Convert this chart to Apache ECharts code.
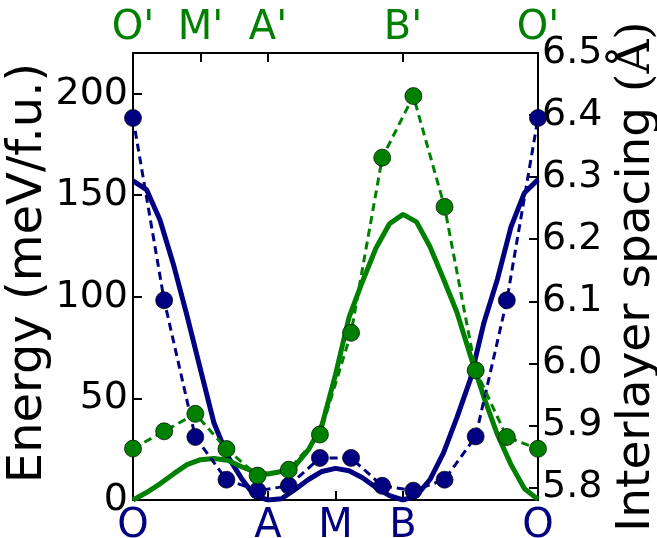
<!DOCTYPE html>
<html><head><meta charset="utf-8">
<script src="https://cdn.jsdelivr.net/npm/echarts@6/dist/echarts.min.js"></script>
<style>html,body{margin:0;padding:0;background:#fff}#c{width:657px;height:538px}</style>
</head><body><div id="c"></div>
<script>
// path coordinate: O=0, A=1, M=1.5, B=2, O=3
const bottomTicks = [0, 1, 1.5, 2, 3];
const bottomLabels = ['O', 'A', 'M', 'B', 'O'];
const topTicks = [0, 0.5, 1, 2, 3];
const topLabels = ["O'", "M'", "A'", "B'", "O'"];
const energyTicks = [0, 50, 100, 150, 200];
const spacingTicks = [5.8, 5.9, 6.0, 6.1, 6.2, 6.3, 6.4, 6.5];

// computed points: 14 equally spaced positions along the path (0..13 of 13)
const dotIndex = [0,1,2,3,4,5,6,7,8,9,10,11,12,13];
const dotCount = 13;
const navyEnergy  = [188, 98.3, 31, 10, 4.6, 7, 20.7, 20.7, 7, 4.6, 10, 31.3, 98.3, 188];
const greenEnergy = [25.3, 33.8, 42.4, 25.1, 12, 14.9, 32.2, 82.3, 168.5, 198.8, 144.3, 63.8, 31, 25.2];

// fitted curves: 31 positions along the path (0..30 of 30)
const lineIndex = [0,1,2,3,4,5,6,7,8,9,10,11,12,13,14,15,16,17,18,19,20,21,22,23,24,25,26,27,28,29,30];
const lineCount = 30;
const navySpacing = [6.294, 6.280, 6.231, 6.159, 6.077, 5.990, 5.904, 5.851, 5.816, 5.787, 5.780,
  5.782, 5.797, 5.813, 5.826, 5.831, 5.827, 5.816, 5.800, 5.787, 5.780,
  5.787, 5.813, 5.856, 5.913, 5.975, 6.066, 6.136, 6.220, 6.275, 6.296];
const greenSpacing = [5.780, 5.792, 5.806, 5.822, 5.837, 5.845, 5.847, 5.844, 5.834, 5.825, 5.822,
  5.826, 5.835, 5.861, 5.901, 5.982, 6.074, 6.132, 6.186, 6.225, 6.240,
  6.228, 6.188, 6.136, 6.082, 6.012, 5.945, 5.885, 5.837, 5.798, 5.781];

const NAVY = '#000080', GREEN = '#008000';
const FONT = 'DejaVu Sans';
const PATH_LEN = 3;

function lookup(ticks, labels) {
  return function (v) {
    for (let i = 0; i < ticks.length; i++) if (Math.abs(ticks[i] - v) < 1e-6) return labels[i];
    return '';
  };
}

const dotX = dotIndex.map(i => i * PATH_LEN / dotCount);
const lineX = lineIndex.map(i => i * PATH_LEN / lineCount);

const axisLine = { show: true, onZero: false, lineStyle: { color: '#000', width: 2 } };
const tick = (vals) => ({ show: true, inside: true, length: 9, customValues: vals, lineStyle: { color: '#000', width: 2 } });

const chart = echarts.init(document.getElementById('c'), null, { renderer: 'canvas' });
chart.setOption({
  animation: false,
  backgroundColor: '#fff',
  grid: { left: 133, right: 119, top: 53, bottom: 38, containLabel: false, outerBoundsMode: 'none' },
  xAxis: [
    { type: 'value', position: 'bottom', min: 0, max: PATH_LEN,
      axisLine: axisLine, splitLine: { show: false },
      axisTick: tick([1, 1.5, 2]),
      axisLabel: { customValues: bottomTicks, formatter: lookup(bottomTicks, bottomLabels),
        color: NAVY, fontFamily: FONT, fontSize: 40, margin: 7, hideOverlap: false } },
    { type: 'value', position: 'top', min: 0, max: PATH_LEN,
      axisLine: axisLine, splitLine: { show: false },
      axisTick: tick([0.5, 1, 2]),
      axisLabel: { customValues: topTicks, formatter: lookup(topTicks, topLabels),
        color: GREEN, fontFamily: FONT, fontSize: 40, margin: 4, hideOverlap: false } },
  ],
  yAxis: [
    { type: 'value', position: 'left', min: 0, max: 220,
      axisLine: axisLine, splitLine: { show: false },
      axisTick: tick(energyTicks),
      axisLabel: { customValues: energyTicks, color: '#000', fontFamily: FONT, fontSize: 38, margin: 5 },
      name: 'Energy (meV/f.u.)', nameLocation: 'middle', nameRotate: 90, nameGap: 80, nameMoveOverlap: false,
      nameTextStyle: { color: '#000', fontFamily: FONT, fontSize: 48, padding: [0, 0, 0, 7] } },
    { type: 'value', position: 'right', min: 5.78, max: 6.5,
      axisLine: axisLine, splitLine: { show: false },
      axisTick: tick(spacingTicks),
      axisLabel: { customValues: spacingTicks, formatter: v => v.toFixed(1),
        color: '#000', fontFamily: FONT, fontSize: 38, margin: 4 },
      name: '{a|Interlayer spacing }{b|(Å)}', nameLocation: 'middle', nameRotate: 90, nameGap: 65,
      nameTextStyle: { color: '#000', fontFamily: FONT, fontSize: 47,
        rich: { a: { fontFamily: FONT, fontSize: 47, color: '#000' },
                b: { fontFamily: 'DejaVu Serif', fontSize: 47, color: '#000' } } } }
  ],
  series: [
    { type: 'line', xAxisIndex: 0, yAxisIndex: 1, data: lineX.map((x, i) => [x, navySpacing[i]]),
      showSymbol: false, symbol: 'none', lineStyle: { color: NAVY, width: 5 }, z: 2, silent: true },
    { type: 'line', xAxisIndex: 0, yAxisIndex: 1, data: lineX.map((x, i) => [x, greenSpacing[i]]),
      showSymbol: false, symbol: 'none', lineStyle: { color: GREEN, width: 5 }, z: 2, silent: true },
    { type: 'line', xAxisIndex: 0, yAxisIndex: 0, data: dotX.map((x, i) => [x, navyEnergy[i]]),
      symbol: 'circle', symbolSize: 17, showAllSymbol: true,
      lineStyle: { color: NAVY, width: 3, type: [8, 5] },
      itemStyle: { color: NAVY, borderColor: '#000', borderWidth: 0.7 }, z: 3, clip: false },
    { type: 'line', xAxisIndex: 0, yAxisIndex: 0, data: dotX.map((x, i) => [x, greenEnergy[i]]),
      symbol: 'circle', symbolSize: 17, showAllSymbol: true,
      lineStyle: { color: GREEN, width: 3, type: [8, 5] },
      itemStyle: { color: GREEN, borderColor: '#000', borderWidth: 0.7 }, z: 4, clip: false }
  ]
});
</script>
</body></html>
